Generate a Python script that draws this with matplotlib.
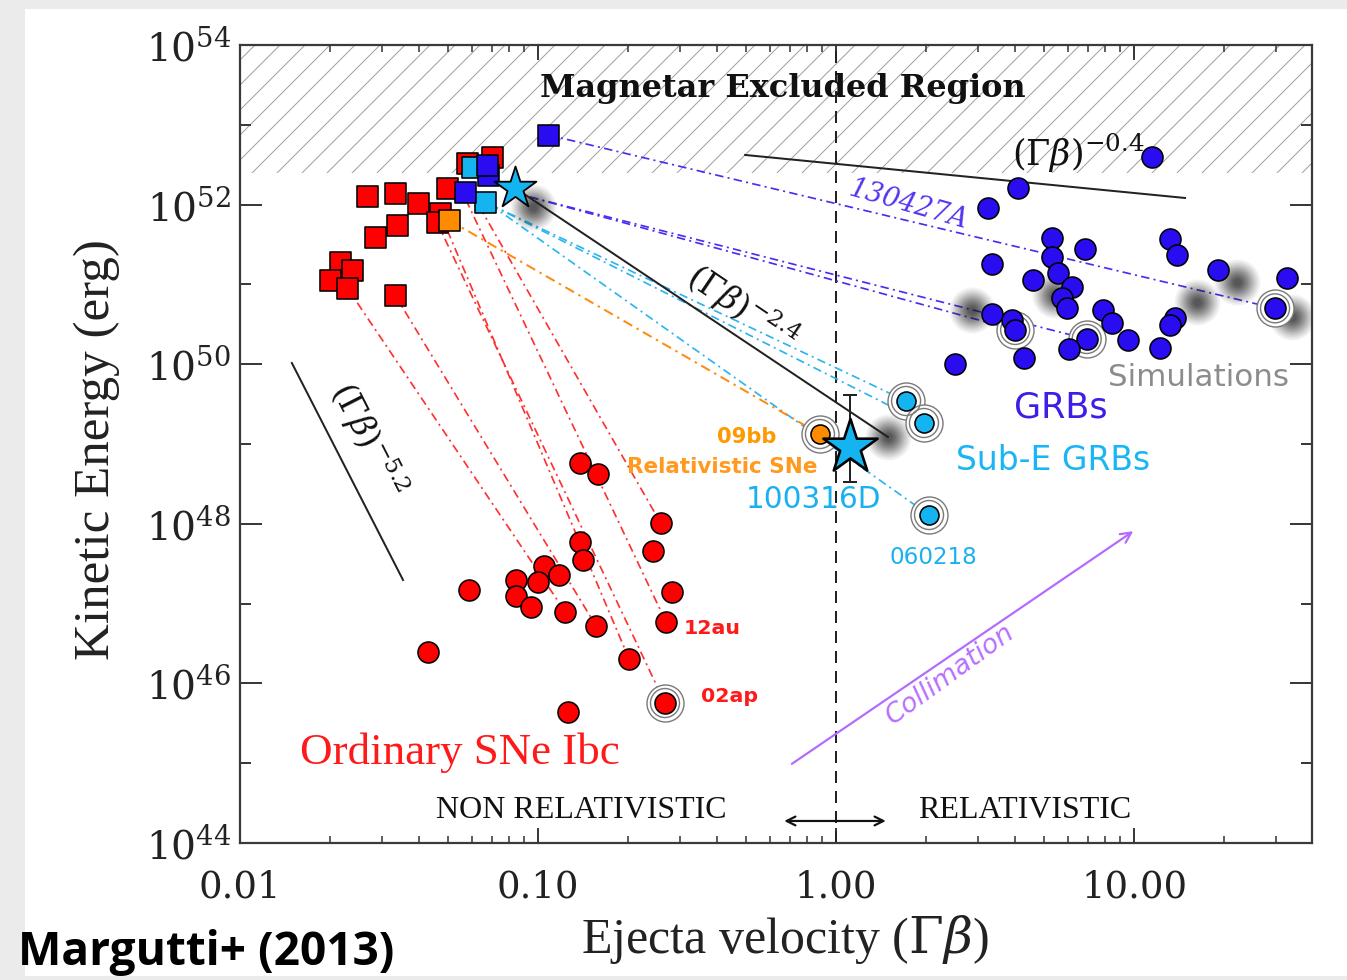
import matplotlib
matplotlib.use('Agg')
import matplotlib.pyplot as plt
import numpy as np
from matplotlib import font_manager
from matplotlib.patches import Rectangle
from matplotlib.ticker import FixedLocator, NullFormatter

# ---------------- data (log10 values) ----------------
# Ordinary SNe Ibc: early-epoch squares
sn_sq_logv = [-1.575, -1.480, -1.403, -1.306, -1.155, -1.239, -1.474, -1.547,
              -1.329, -1.340, -1.664, -1.625, -1.698, -1.642, -1.480]
sn_sq_logE = [52.108, 52.145, 52.020, 52.204, 52.596, 52.518, 51.744, 51.594,
              51.895, 51.786, 51.281, 51.180, 51.055, 50.955, 50.867]
# Ordinary SNe Ibc: circles
sn_logv = [-0.859, -0.798, -0.588, -0.613, -0.859, -0.850, -0.551, -0.571, -0.980,
           -0.999, -0.929, -1.074, -1.074, -1.023, -1.231, -0.909, -0.805, -0.694,
           -1.368, -0.899, -0.574]
sn_logE = [48.758, 48.624, 48.006, 47.663, 47.776, 47.546, 47.142, 46.773, 47.471,
           47.274, 47.358, 47.296, 47.095, 46.961, 47.171, 46.899, 46.719, 46.302,
           46.397, 45.642, 45.754]
# Relativistic SN 09bb
rel_sq_logv, rel_sq_logE = [-1.299], [51.806]
rel_logv, rel_logE = [-0.054], [49.125]
# Sub-energetic GRBs
sub_sq_logv, sub_sq_logE = [-1.222, -1.178], [52.475, 52.036]
sub_logv = [0.235, 0.295, 0.312]
sub_logE = [49.539, 49.263, 48.110]
# GRBs
grb_sq_logv = [-0.965, -1.245, -1.167, -1.172]
grb_sq_logE = [52.872, 52.162, 52.371, 52.496]
grb_logv = [0.612, 0.511, 0.724, 0.836, 0.724, 0.522, 0.662, 0.746, 0.791, 0.757,
            0.774, 0.522, 0.590, 0.601, 0.897, 0.925, 0.841, 0.780, 0.981, 1.087,
            0.629, 0.399, 1.121, 1.143, 1.138, 1.121, 1.283, 1.512, 1.473, 1.060]
grb_logE = [52.204, 51.961, 51.578, 51.444, 51.347, 51.252, 51.055, 51.139, 50.971, 50.826,
            50.700, 50.629, 50.554, 50.429, 50.679, 50.512, 50.316, 50.190, 50.303, 50.199,
            50.081, 49.999, 51.565, 51.368, 50.575, 50.491, 51.180, 51.076, 50.700, 52.596]
# GRB 100316D (stars)
star_top_logv, star_top_logE = [-1.077], [52.208]
star_logv, star_logE = [0.047], [48.962]
star_logE_hi, star_logE_lo = [49.614], [48.524]
# simulations (grey blobs)
sim_logv = [-1.017, 0.174, 0.455, 0.735, 1.210, 1.345, 1.529]
sim_logE = [51.970, 49.088, 50.679, 50.867, 50.783, 51.034, 50.595]
# ringed events
ring_logv = [-0.574, -0.054, 0.235, 0.295, 0.312, 0.601, 0.841, 1.473]
ring_logE = [45.754, 49.125, 49.539, 49.263, 48.110, 50.429, 50.316, 50.700]
# early -> late links (logv0, logE0, logv1, logE1)
red_links = [(-1.642, 50.967, -0.909, 46.899), (-1.480, 50.867, -0.805, 46.719),
             (-1.329, 51.895, -0.694, 46.302), (-1.340, 51.786, -0.574, 45.754),
             (-1.242, 52.060, -0.571, 46.773), (-1.228, 52.180, -0.588, 48.006)]
blue_links = [(-0.965, 52.872, 1.473, 50.700), (-1.027, 52.095, 0.841, 50.316),
              (-1.027, 52.095, 0.601, 50.429)]
cyan_links = [(-1.160, 52.00, 0.235, 49.539), (-1.160, 52.00, 0.295, 49.263),
              (-1.160, 52.00, 0.312, 48.110)]
orange_links = [(-1.299, 51.806, -0.054, 49.125)]
# power-law guides
guide_04 = (-0.305, 52.622, 1.171, 52.083)
guide_52 = (-1.826, 50.015, -1.453, 47.296)
guide_24 = (-1.077, 52.208, 0.174, 49.088)
magnetar_logE = 52.40
collim_arrow = (-0.154, 44.977, 1.003, 47.922)
rel_arrow = (-0.181, 0.174, 44.276)

xtick_vals = [0.01, 0.1, 1.0, 10.0]
xtick_labels = ['0.01', '0.10', '1.00', '10.00']
ytick_exps = [44, 46, 48, 50, 52, 54]

# ---------------- figure ----------------
DPI = 75
W, H = 1347, 980
P = 72.0 / DPI  # points per pixel

def pw(v):
    return 10 ** np.asarray(v, dtype=float)

fig = plt.figure(figsize=(W / DPI, H / DPI), dpi=DPI, facecolor='#ebebeb')
fig.patches.append(Rectangle((25 / W, 1 - 976 / H), (W - 25) / W, (976 - 9) / H,
                             transform=fig.transFigure, facecolor='white',
                             edgecolor='none', zorder=-10))
ax = fig.add_axes([240 / W, 1 - 843 / H, 1072 / W, 798 / H])
ax.set_zorder(1)
ax.set_xscale('log')
ax.set_yscale('log')
XMAX = 10 ** 1.597
ax.set_xlim(0.01, XMAX)
ax.set_ylim(1e44, 1e54)
ax.set_facecolor('white')

plt.rcParams['hatch.linewidth'] = 1.0 * P
ax.fill_between([0.01, XMAX], 10 ** magnetar_logE, 1e54, facecolor='none',
                edgecolor='#a0a0a0', hatch='/', linewidth=0, zorder=0.5)

for s in ax.spines.values():
    s.set_linewidth(2.2 * P)
    s.set_color('#3a3a3a')
    s.set_zorder(10)

ax.tick_params(which='both', direction='in', top=True, right=True, colors='#3a3a3a')
ax.tick_params(axis='y', which='major', length=22 * P, width=2 * P, pad=9 * P)
ax.tick_params(axis='y', which='minor', length=11 * P, width=2 * P)
ax.tick_params(axis='x', which='major', length=15 * P, width=2 * P, pad=26 * P)
ax.tick_params(axis='x', which='minor', length=7 * P, width=1.6 * P)
ax.yaxis.set_major_locator(FixedLocator([10.0 ** e for e in ytick_exps]))
ax.yaxis.set_minor_locator(FixedLocator([10.0 ** (e + 1) for e in ytick_exps[:-1]]))
ax.yaxis.set_minor_formatter(NullFormatter())
ax.set_yticklabels(['10$^{%d}$' % e for e in ytick_exps], fontfamily='DejaVu Serif',
                   fontsize=39 * P, color='#222222')
for t in ax.get_yticklabels():
    t.set_math_fontfamily('dejavuserif')
ax.xaxis.set_major_locator(FixedLocator(xtick_vals))
ax.xaxis.set_minor_locator(matplotlib.ticker.LogLocator(base=10, subs=np.arange(2, 10)))
ax.xaxis.set_minor_formatter(NullFormatter())
ax.set_xticklabels(xtick_labels, fontfamily='DejaVu Serif', fontsize=37 * P, color='#222222')

# vertical dashed line at Gamma beta = 1
ax.axvline(1.0, color='#222222', lw=2 * P, linestyle=(0, (6, 4)), zorder=2)

# links
dd = (0, (5, 2.5, 1.2, 2.5))
def draw_links(links, color, lw=1.7):
    for (a, b, c, d) in links:
        ax.plot(pw([a, c]), pw([b, d]), color=color, lw=lw * P, linestyle=dd, zorder=2)

draw_links(red_links, '#ff3030')
draw_links(blue_links, '#4a2cf0')
draw_links(cyan_links, '#2ab4f0')
draw_links(orange_links, '#ff8a10', lw=2.0)

# guides
for g in (guide_04, guide_52, guide_24):
    ax.plot(pw([g[0], g[2]]), pw([g[1], g[3]]), color='#222222', lw=2 * P, zorder=3)

# simulation blobs
for r, a in zip(np.linspace(46, 8, 12), np.linspace(0.05, 0.16, 12)):
    ax.scatter(pw(sim_logv), pw(sim_logE), s=(r * P) ** 2, color='#202020',
               alpha=a, linewidths=0, zorder=3.2)

# rings
ax.scatter(pw(ring_logv), pw(ring_logE), s=(37 * P) ** 2, facecolor='white',
           edgecolor='#7a7a7a', linewidths=1.4 * P, zorder=3.5)
ax.scatter(pw(ring_logv), pw(ring_logE), s=(29 * P) ** 2, facecolor='none',
           edgecolor='#7a7a7a', linewidths=1.4 * P, zorder=3.6)

mk = dict(edgecolor='black', linewidths=1.6 * P)
S = (21 * P) ** 2
ax.scatter(pw(sn_sq_logv), pw(sn_sq_logE), marker='s', s=S, facecolor='#ff0000', zorder=4, **mk)
ax.scatter(pw(sn_logv), pw(sn_logE), marker='o', s=S, facecolor='#ff0000', zorder=4, **mk)
ax.scatter(pw(sub_sq_logv), pw(sub_sq_logE), marker='s', s=S, facecolor='#14b4f0', zorder=4.1, **mk)
ax.scatter(pw(grb_sq_logv), pw(grb_sq_logE), marker='s', s=S, facecolor='#2a0cf0', zorder=4.2, **mk)
ax.scatter(pw(rel_sq_logv), pw(rel_sq_logE), marker='s', s=S, facecolor='#ff8c00', zorder=4.3, **mk)
ax.scatter(pw(grb_logv), pw(grb_logE), marker='o', s=S, facecolor='#2a0cf0', zorder=4, **mk)
ax.scatter(pw(sub_logv), pw(sub_logE), marker='o', s=(19 * P) ** 2, facecolor='#14b4f0', zorder=4, **mk)
ax.scatter(pw(rel_logv), pw(rel_logE), marker='o', s=(19 * P) ** 2, facecolor='#ff8c00', zorder=4, **mk)

# stars
yv = pw(star_logE)
ax.errorbar(pw(star_logv), yv, yerr=[yv - pw(star_logE_lo), pw(star_logE_hi) - yv],
            fmt='none', ecolor='#222222', elinewidth=2 * P, capsize=7 * P,
            capthick=2 * P, zorder=4.5)
ax.scatter(pw(star_top_logv), pw(star_top_logE), marker='*', s=(44 * P) ** 2,
           facecolor='#14b4f0', edgecolor='black', linewidths=1.8 * P, zorder=5)
ax.scatter(pw(star_logv), pw(star_logE), marker='*', s=(57 * P) ** 2,
           facecolor='#14b4f0', edgecolor='black', linewidths=2.6 * P, zorder=5)

# arrows
ax.annotate('', xy=pw([collim_arrow[2], collim_arrow[3]]), xytext=pw([collim_arrow[0], collim_arrow[1]]),
            arrowprops=dict(arrowstyle='->', color='#b36bff', lw=2.2 * P, mutation_scale=26 * P),
            zorder=3)
ax.annotate('', xy=(10 ** rel_arrow[1], 10 ** rel_arrow[2]), xytext=(10 ** rel_arrow[0], 10 ** rel_arrow[2]),
            arrowprops=dict(arrowstyle='<->', color='#111111', lw=2.2 * P, mutation_scale=22 * P),
            zorder=3)

# ---------------- texts ----------------
def atext(px, py, s, size, color='black', family='DejaVu Sans', weight='normal',
          rot=0, style='normal', mathfam='dejavusans', ha='center'):
    t = ax.text((px - 240) / 1072, (843 - py) / 798, s, transform=ax.transAxes,
                ha=ha, va='center', fontsize=size * P, color=color, fontfamily=family,
                fontweight=weight, rotation=rot, fontstyle=style, rotation_mode='anchor',
                zorder=6)
    t.set_math_fontfamily(mathfam)
    return t

atext(783, 88, 'Magnetar Excluded Region', 32, '#111111', 'DejaVu Serif', 'bold')
atext(1078, 153, r'$(\Gamma\beta)^{-0.4}$', 35, '#111111', mathfam='dejavuserif')
atext(908, 205, '130427A', 27, '#5533ee', 'DejaVu Serif', rot=-16, style='italic')
atext(742, 308, r'$(\Gamma\beta)^{-2.4}$', 33, '#111111', mathfam='dejavuserif', rot=-34)
atext(368, 440, r'$(\Gamma\beta)^{-5.2}$', 33, '#111111', mathfam='dejavuserif', rot=-63)
atext(1199, 378, 'Simulations', 31, '#8c8c8c')
atext(1061, 408, 'GRBs', 35, '#3d1ee6')
atext(1053, 460, 'Sub-E GRBs', 33, '#19b5f5')
atext(747, 437, '09bb', 21, '#ff9900', weight='bold')
atext(722, 467, 'Relativistic SNe', 21.5, '#ff9a1f', weight='bold')
atext(814, 500, '100316D', 29.5, '#19b0f0')
atext(933, 557, '060218', 23, '#19b0f0')
atext(712, 628, '12au', 20.5, '#ff1a1a', weight='bold')
atext(730, 696, '02ap', 20.5, '#ff1a1a', weight='bold')
atext(460, 753, 'Ordinary SNe Ibc', 45, '#ff1a1a', 'Liberation Serif')
atext(581, 810, 'NON RELATIVISTIC', 32, '#111111', 'Liberation Serif')
atext(1025, 810, 'RELATIVISTIC', 32, '#111111', 'Liberation Serif')
atext(950, 675, 'Collimation', 27, '#b870ff', rot=36, style='italic')

fig.text(785 / W, 1 - 940 / H, r'Ejecta velocity ($\Gamma\beta$)', ha='center', va='center',
         fontsize=50 * P, fontfamily='Liberation Serif', color='#222222',
         math_fontfamily='dejavuserif')
fig.text(97 / W, 1 - 450 / H, 'Kinetic Energy (erg)', ha='center', va='center', rotation=90,
         fontsize=51 * P, fontfamily='Liberation Serif', color='#222222')

names = {f.name for f in font_manager.fontManager.ttflist}
if 'Liberation Sans Narrow' in names:
    mfam, msize = 'Liberation Sans Narrow', 57
else:
    mfam, msize = 'Open Sans', 46
fig.text(18 / W, 1 - 953 / H, 'Margutti+ (2013)', ha='left', va='center',
         fontsize=msize * P, fontfamily=mfam, fontweight='bold', color='black')

fig.savefig('out.png', dpi=DPI, facecolor=fig.get_facecolor())
